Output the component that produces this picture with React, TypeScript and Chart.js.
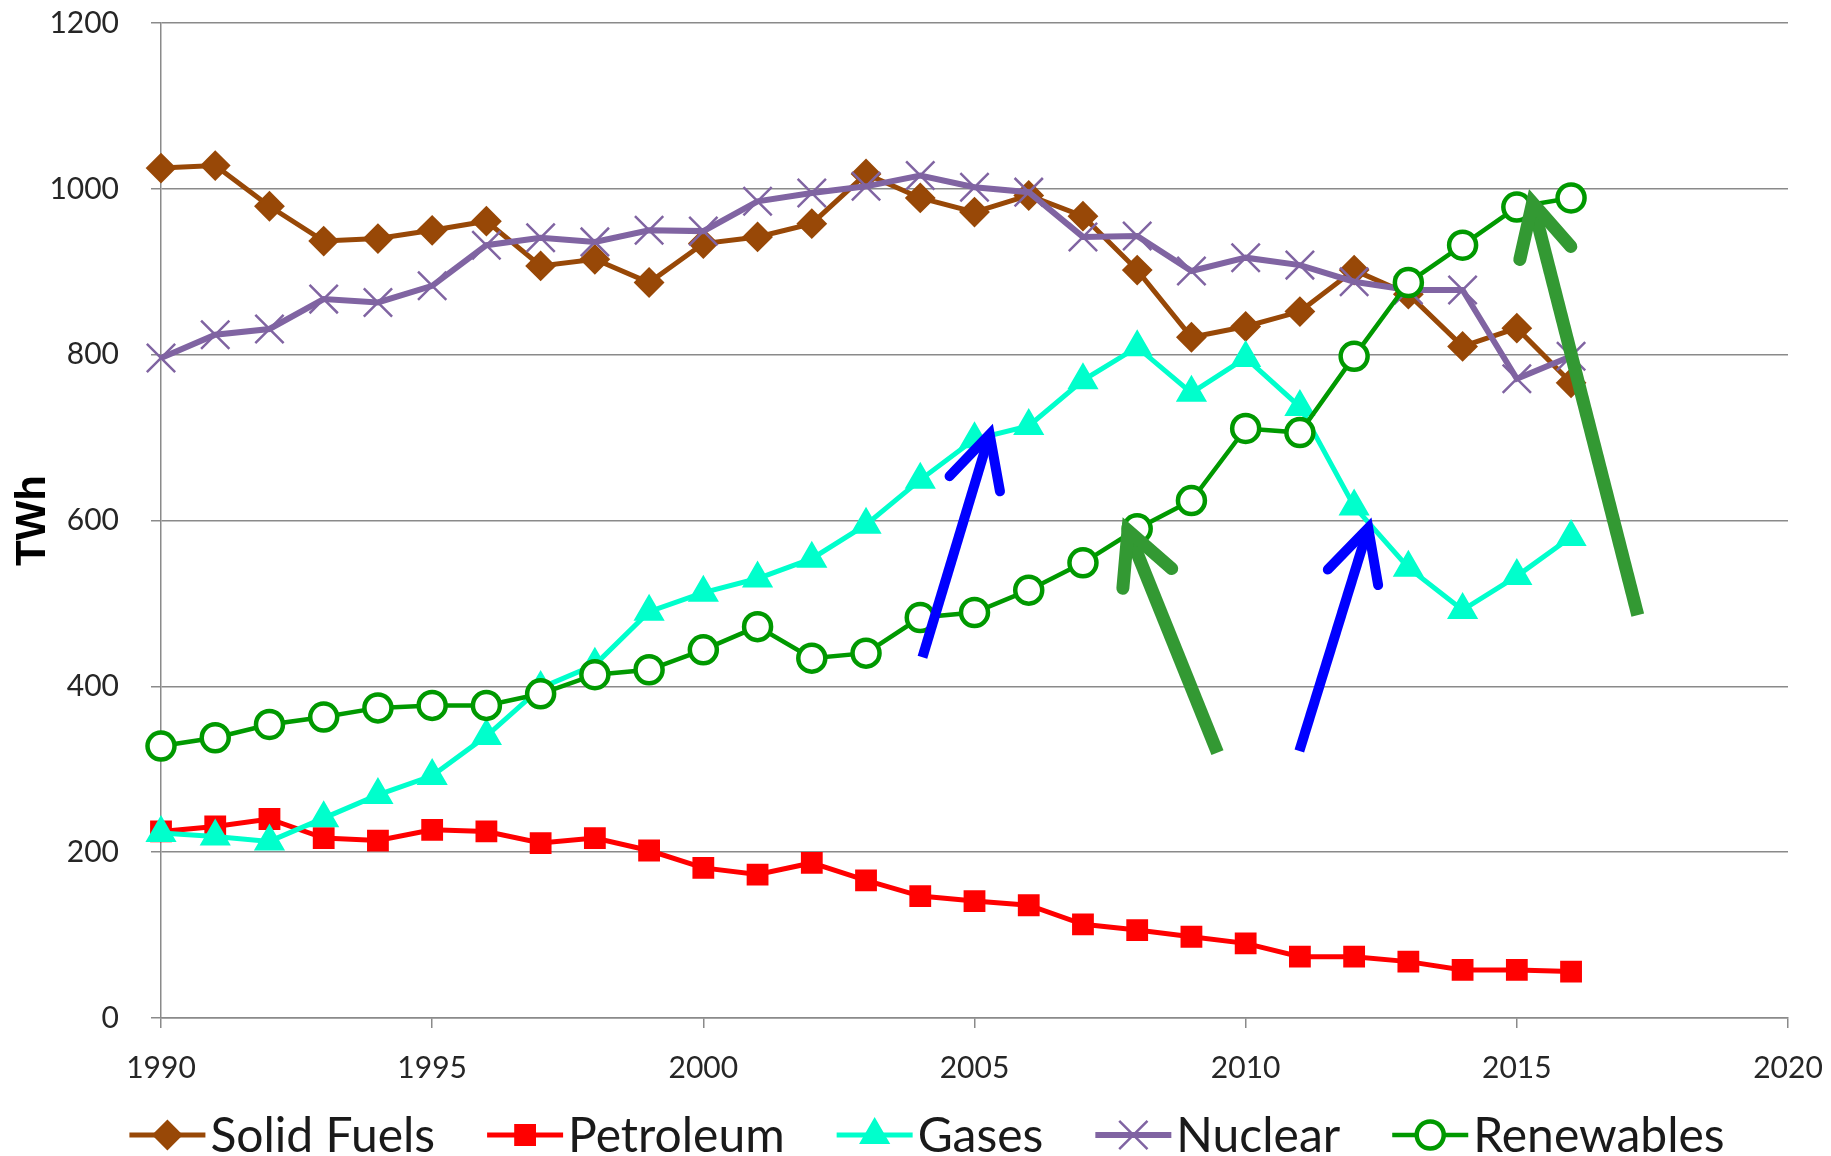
import React, { useEffect, useRef } from "react";
import { Chart, registerables } from "chart.js";
import { drawPoint } from "chart.js/helpers";

Chart.register(...registerables);

// ---------- data ----------
const years = [1990, 1991, 1992, 1993, 1994, 1995, 1996, 1997, 1998, 1999, 2000, 2001, 2002, 2003, 2004, 2005, 2006, 2007, 2008, 2009, 2010, 2011, 2012, 2013, 2014, 2015, 2016];
const solidFuels = [1025, 1028, 979, 937, 940, 950, 961, 907, 915, 887, 934, 942, 958, 1018, 989, 972, 992, 967, 902, 821, 834, 852, 902, 873, 810, 832, 766];
const petroleum = [225, 231, 240, 217, 214, 227, 225, 211, 217, 202, 181, 173, 187, 166, 147, 141, 136, 113, 106, 98, 90, 74, 74, 68, 58, 58, 56];
const gases = [223, 219, 213, 241, 269, 292, 340, 398, 426, 490, 513, 530, 554, 595, 649, 698, 714, 769, 809, 754, 796, 737, 617, 543, 492, 533, 580];
const nuclear = [796, 824, 831, 867, 863, 883, 932, 941, 936, 950, 949, 985, 995, 1003, 1016, 1002, 996, 942, 943, 901, 917, 908, 888, 878, 878, 771, 798];
const renewables = [328, 338, 354, 363, 374, 377, 377, 391, 414, 420, 444, 472, 434, 440, 483, 489, 516, 549, 590, 624, 711, 706, 798, 887, 932, 978, 989];

const seriesNames = ["Solid Fuels", "Petroleum", "Gases", "Nuclear", "Renewables"];
const seriesValues = [solidFuels, petroleum, gases, nuclear, renewables];

const xTicks = [1990, 1995, 2000, 2005, 2010, 2015, 2020];
const yTicks = [0, 200, 400, 600, 800, 1000, 1200];
const yTitle = "TWh";

// annotation arrows: tail and tip in data coordinates (year, TWh)
const arrowTails = [[2004.04, 435], [2009.48, 320], [2010.99, 322], [2017.23, 486]];
const arrowTips = [[2005.28, 704], [2007.83, 588], [2012.26, 591], [2015.29, 983]];
const arrowKinds = ["blue", "green", "blue", "green"];

// ---------- styles ----------
const styles = [
  { color: "#984807", fill: "#984807", pointStyle: "rectRot", radius: 14, lineWidth: 5, borderWidth: 2, order: 5 },
  { color: "#FF0000", fill: "#FF0000", pointStyle: "rect", radius: 14, lineWidth: 5, borderWidth: 2, order: 4 },
  { color: "#00FFCC", fill: "#00FFCC", pointStyle: "triangle", radius: 16, lineWidth: 5, borderWidth: 2, order: 3 },
  { color: "#8064A2", fill: "#8064A2", pointStyle: "crossRot", radius: 20, lineWidth: 6, borderWidth: 2.5, order: 2 },
  { color: "#009900", fill: "#FFFFFF", pointStyle: "circle", radius: 13.5, lineWidth: 4.5, borderWidth: 4.5, order: 1 },
];
const arrowStyles: Record<string, { color: string; width: number }> = {
  blue: { color: "#0000FF", width: 10 },
  green: { color: "#339933", width: 13 },
};

const FONT = "Lato, 'Open Sans', sans-serif";
const GRID = "#8a8a8a";

const arrowPlugin = {
  id: "arrows",
  afterDatasetsDraw(chart: any) {
    const { ctx } = chart;
    const xs = chart.scales.x;
    const ys = chart.scales.y;
    arrowTails.forEach((tail, i) => {
      const tip = arrowTips[i];
      const st = arrowStyles[arrowKinds[i]];
      const x0 = xs.getPixelForValue(tail[0]);
      const y0 = ys.getPixelForValue(tail[1]);
      const x1 = xs.getPixelForValue(tip[0]);
      const y1 = ys.getPixelForValue(tip[1]);
      const ang = Math.atan2(y0 - y1, x0 - x1);
      const hl = 58;
      const ha = (27 * Math.PI) / 180;
      ctx.save();
      ctx.strokeStyle = st.color;
      ctx.lineWidth = st.width;
      ctx.lineCap = "butt";
      ctx.beginPath();
      ctx.moveTo(x0, y0);
      ctx.lineTo(x1 + Math.cos(ang) * st.width, y1 + Math.sin(ang) * st.width);
      ctx.stroke();
      ctx.lineCap = "round";
      ctx.lineJoin = "miter";
      ctx.miterLimit = 10;
      ctx.beginPath();
      ctx.moveTo(x1 + hl * Math.cos(ang + ha), y1 + hl * Math.sin(ang + ha));
      ctx.lineTo(x1, y1);
      ctx.lineTo(x1 + hl * Math.cos(ang - ha), y1 + hl * Math.sin(ang - ha));
      ctx.stroke();
      ctx.restore();
    });
  },
};

const legendPlugin = {
  id: "customLegend",
  afterDraw(chart: any) {
    const { ctx } = chart;
    ctx.save();
    const fontSize = 48;
    ctx.font = `${fontSize}px ${FONT}`;
    const iconW = 76;
    const gap = 5;
    const itemGap = 52;
    const widths = seriesNames.map((n) => ctx.measureText(n).width);
    const total = widths.reduce((s, w) => s + iconW + gap + w, 0) + itemGap * (seriesNames.length - 1);
    let xp = 927 - total / 2;
    const yc = 1135;
    seriesNames.forEach((name, i) => {
      const st = styles[i];
      ctx.strokeStyle = st.color;
      ctx.lineWidth = st.lineWidth;
      ctx.lineCap = "butt";
      ctx.beginPath();
      ctx.moveTo(xp, yc);
      ctx.lineTo(xp + iconW, yc);
      ctx.stroke();
      ctx.fillStyle = st.fill;
      ctx.strokeStyle = st.color;
      ctx.lineWidth = st.borderWidth;
      drawPoint(ctx, { pointStyle: st.pointStyle, radius: st.radius, rotation: 0, borderWidth: st.borderWidth } as any, xp + iconW / 2, yc);
      ctx.fillStyle = "#1a1a1a";
      ctx.textBaseline = "alphabetic";
      ctx.textAlign = "left";
      ctx.fillText(name, xp + iconW + gap, yc + 0.36 * fontSize);
      xp += iconW + gap + widths[i] + itemGap;
    });
    ctx.restore();
  },
};

export default function App() {
  const ref = useRef<HTMLCanvasElement | null>(null);
  useEffect(() => {
    document.body.style.margin = "0";
    const canvas = ref.current;
    if (!canvas) return;
    const datasets = seriesNames.map((name, i) => {
      const st = styles[i];
      return {
        label: name,
        data: years.map((yr, j) => ({ x: yr, y: seriesValues[i][j] })),
        borderColor: st.color,
        backgroundColor: st.fill,
        borderWidth: st.lineWidth,
        pointStyle: st.pointStyle,
        pointRadius: st.radius,
        pointBorderWidth: st.borderWidth,
        pointBorderColor: st.color,
        pointBackgroundColor: st.fill,
        tension: 0,
        fill: false,
        clip: false,
        order: st.order,
      };
    });
    const chart = new Chart(canvas, {
      type: "line",
      data: { datasets } as any,
      options: {
        animation: false,
        responsive: false,
        devicePixelRatio: 1,
        layout: { padding: { top: 23, right: 43, bottom: 60, left: 0 } },
        plugins: { legend: { display: false }, tooltip: { enabled: false } },
        scales: {
          x: {
            type: "linear",
            min: 1990,
            max: 2020,
            afterBuildTicks: (scale: any) => {
              scale.ticks = xTicks.map((v) => ({ value: v }));
            },
            afterFit: (scale: any) => {
              scale.height = 78;
              scale.paddingLeft = 0;
              scale.paddingRight = 0;
            },
            ticks: {
              callback: (v: any) => String(v),
              font: { family: FONT, size: 30 },
              color: "#262626",
              padding: 22,
              maxRotation: 0,
            },
            grid: { drawOnChartArea: false, drawTicks: true, tickLength: 10, color: GRID, lineWidth: 1.5 },
            border: { display: true, color: GRID, width: 1.5 },
          },
          y: {
            type: "linear",
            min: 0,
            max: 1200,
            afterBuildTicks: (scale: any) => {
              scale.ticks = yTicks.map((v) => ({ value: v }));
            },
            afterFit: (scale: any) => {
              scale.width = 161;
              scale.paddingTop = 0;
              scale.paddingBottom = 0;
            },
            ticks: {
              callback: (v: any) => String(v),
              font: { family: FONT, size: 30 },
              color: "#262626",
              padding: 32,
            },
            grid: { drawOnChartArea: true, drawTicks: true, tickLength: 10, color: GRID, lineWidth: 1.5 },
            border: { display: true, color: GRID, width: 1.5 },
            title: {
              display: true,
              text: yTitle,
              font: { family: "'Liberation Sans', Arial, sans-serif", size: 42, weight: "bold" },
              color: "#000000",
              padding: { top: 8, bottom: 0 },
            },
          },
        },
      } as any,
      plugins: [arrowPlugin, legendPlugin],
    });
    return () => chart.destroy();
  }, []);
  return (
    <div>
      <canvas ref={ref} width={1831} height={1156} style={{ display: "block", width: 1831, height: 1156 }} />
    </div>
  );
}
